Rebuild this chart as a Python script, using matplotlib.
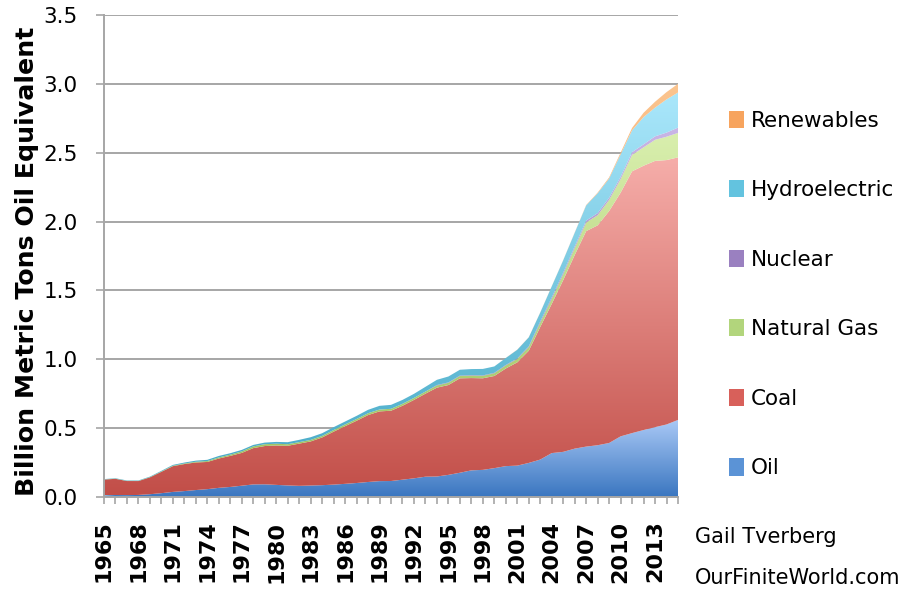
import numpy as np
import matplotlib
matplotlib.use("Agg")
import matplotlib.pyplot as plt
from matplotlib.colors import LinearSegmentedColormap
from matplotlib.patches import Patch

# China energy consumption by fuel, million tons oil equivalent
years = list(range(1965, 2016))
oil = [10.9, 14.3, 13.6, 14.9, 20.2, 27.8, 37.0, 43.0, 50.5, 57.0,
       66.5, 73.0, 82.0, 91.4, 92.1, 88.0, 84.0, 81.0, 83.4, 85.8,
       90.0, 95.5, 101.6, 109.0, 115.2, 116.1, 125.7, 135.6, 147.4, 149.0,
       160.7, 176.1, 193.5, 197.0, 209.6, 224.2, 227.9, 247.4, 271.7, 318.9,
       327.8, 351.2, 366.0, 376.0, 392.2, 440.4, 464.2, 486.3, 507.2, 526.8,
       559.7]
coal = [115.7, 117.7, 102.2, 100.8, 122.6, 155.1, 187.0, 196.3, 200.3, 197.4,
        212.9, 225.6, 238.2, 263.6, 278.0, 286.1, 287.9, 306.6, 320.0, 346.5,
        384.3, 418.7, 451.9, 485.9, 506.4, 510.4, 536.7, 569.4, 603.0, 645.0,
        652.4, 685.6, 670.1, 665.0, 669.2, 708.9, 749.8, 814.7, 963.0, 1082.9,
        1246.8, 1405.5, 1564.6, 1596.6, 1684.3, 1769.3, 1900.7, 1919.2, 1933.3, 1919.7,
        1906.5]
gas = [1.0, 1.2, 1.3, 1.3, 1.7, 2.6, 3.4, 4.2, 5.2, 6.6,
       7.9, 9.0, 10.9, 12.3, 13.1, 12.7, 11.4, 10.9, 11.0, 11.1,
       11.7, 12.5, 12.9, 13.3, 13.6, 13.8, 14.2, 14.3, 15.2, 15.8,
       16.0, 16.7, 17.8, 17.9, 19.5, 22.1, 24.7, 26.3, 30.5, 35.7,
       42.1, 50.5, 62.6, 73.2, 80.6, 98.1, 119.7, 133.3, 153.1, 169.6,
       177.6]
nuclear = [0.0] * 29 + [3.2, 2.9, 3.2, 3.3, 3.2, 3.4, 3.8, 4.0, 5.7, 9.8, 11.4,
                        12.0, 12.4, 14.1, 15.5, 15.9, 16.7, 19.5, 22.0, 25.3, 30.0,
                        38.6]
hydro = [2.4, 2.8, 2.9, 3.0, 3.5, 4.5, 5.6, 6.5, 8.0, 9.0,
         10.7, 10.4, 10.9, 10.7, 11.8, 13.2, 14.7, 16.5, 19.6, 19.6,
         21.0, 21.3, 22.6, 24.8, 26.8, 28.7, 28.4, 29.7, 34.4, 38.0,
         43.0, 42.4, 44.3, 46.9, 46.3, 50.3, 62.8, 65.0, 64.0, 80.0,
         90.0, 98.6, 109.8, 144.1, 139.3, 163.4, 158.2, 197.3, 208.2, 240.8,
         254.9]
renewables = [0.0] * 35 + [0.7, 0.8, 0.9, 1.0, 1.1, 1.3, 1.8, 2.9, 4.6, 7.7,
                           12.1, 17.7, 31.9, 42.9, 53.1, 62.7]

labels = ["Oil", "Coal", "Natural Gas", "Nuclear", "Hydroelectric", "Renewables"]
values = [oil, coal, gas, nuclear, hydro, renewables]
# (bottom colour, top colour) of each gradient
colours = [("#3a76c0", "#aac9f6"),
           ("#c24e48", "#f6aeaa"),
           ("#9cc05a", "#d9efae"),
           ("#8064a2", "#c9b6e6"),
           ("#45a9c6", "#aae7fb"),
           ("#f48c3c", "#fbc590")]
legend_cols = ["#5b93d6", "#d8605a", "#b2d57c", "#9a80c0", "#63c3df", "#f7a45e"]

x = np.array(years)

fig = plt.figure(figsize=(9.22, 5.97), dpi=100)
ax = fig.add_axes([104 / 922, 100 / 597, 574 / 922, 482 / 597])

base = np.zeros(len(years))
for lab, vals, (c0, c1) in zip(labels, values, colours):
    top = base + np.array(vals) / 1000.0
    poly = ax.fill_between(x, base, top, facecolor="none", edgecolor="none")
    lo, hi = base.min(), top.max()
    if hi > lo:
        cmap = LinearSegmentedColormap.from_list(lab, [c0, c1])
        grad = np.linspace(0, 1, 256).reshape(-1, 1)
        im = ax.imshow(grad, cmap=cmap, aspect="auto", origin="lower",
                       extent=[x[0], x[-1], lo, hi], interpolation="bilinear",
                       zorder=2)
        im.set_clip_path(poly.get_paths()[0], transform=ax.transData)
    base = top

ax.set_xlim(1965, 2015)
ax.set_ylim(0, 3.5)

grid_col = "#a6a6a6"
ax.set_axisbelow(True)
ax.yaxis.grid(True, color=grid_col, linewidth=1.4)
ax.xaxis.grid(False)
for s in ["top", "right"]:
    ax.spines[s].set_visible(False)
ax.spines["left"].set_color(grid_col)
ax.spines["bottom"].set_color(grid_col)
ax.spines["left"].set_linewidth(1.4)
ax.spines["bottom"].set_linewidth(1.4)

ax.set_yticks(np.arange(0, 3.51, 0.5))
ax.set_yticklabels(["%.1f" % v for v in np.arange(0, 3.51, 0.5)], fontsize=15.5)
ax.tick_params(axis="y", length=6, width=1.2, color=grid_col, pad=13)

ax.set_xticks(years)
ax.set_xticklabels([str(y) if (y - 1965) % 3 == 0 else "" for y in years],
                   rotation=90, fontsize=16, fontweight="bold")
ax.tick_params(axis="x", length=5, width=1.2, color=grid_col, pad=12)

ax.set_ylabel("Billion Metric Tons Oil Equivalent", fontsize=18.2, fontweight="bold")
ax.yaxis.set_label_coords(-0.113, 0.49)

handles = [Patch(facecolor=c, edgecolor="none") for c in legend_cols]
leg = fig.legend(handles[::-1], labels[::-1], loc="center left",
                 bbox_to_anchor=(729 / 922, 1 - 294.5 / 597), frameon=False,
                 fontsize=15.5, handlelength=0.7, handleheight=0.85,
                 handletextpad=0.3, labelspacing=2.3, borderpad=0,
                 borderaxespad=0)

fig.text(695 / 922, 1 - 537 / 597, "Gail Tverberg", fontsize=15, va="center")
fig.text(695 / 922, 1 - 578 / 597, "OurFiniteWorld.com", fontsize=15, va="center")

fig.savefig("out.png", dpi=100)
